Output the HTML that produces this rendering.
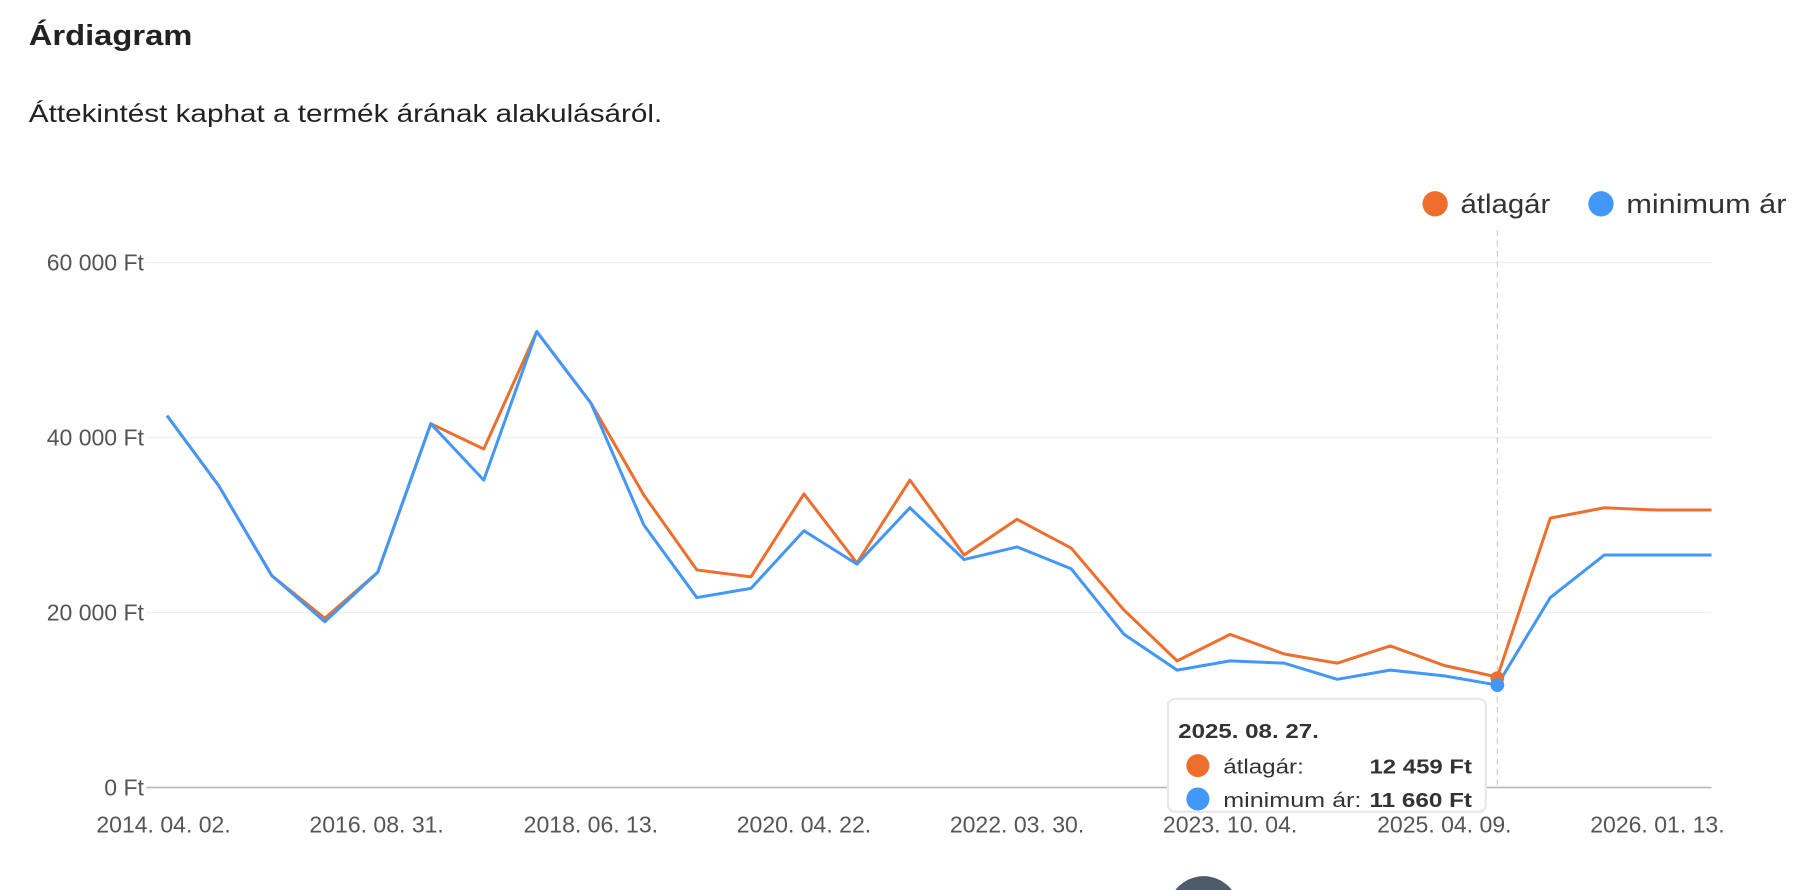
<!DOCTYPE html>
<html><head><meta charset="utf-8"><style>html,body{margin:0;padding:0;background:#fff;overflow:hidden;width:1806px;height:890px}svg{display:block}</style></head>
<body>
<svg width="1806" height="890" viewBox="0 0 1568 773" preserveAspectRatio="none" xmlns="http://www.w3.org/2000/svg" font-family="Liberation Sans, Arial, sans-serif">
<text x="25" y="39" font-size="25" font-weight="bold" fill="#222" textLength="142" lengthAdjust="spacingAndGlyphs">Árdiagram</text>
<text x="25" y="106" font-size="22" fill="#222" textLength="550" lengthAdjust="spacingAndGlyphs">Áttekintést kaphat a termék árának alakulásáról.</text>
<circle cx="1246" cy="177" r="11" fill="#ee6f2d"/><text x="1268" y="185" font-size="23" fill="#333" textLength="78" lengthAdjust="spacingAndGlyphs">átlagár</text>
<circle cx="1390" cy="177" r="11" fill="#4297f7"/><text x="1412" y="185" font-size="23" fill="#333" textLength="139" lengthAdjust="spacingAndGlyphs">minimum ár</text>
<g stroke="#eee" stroke-width="1"><line x1="127" y1="228" x2="1486" y2="228"/><line x1="127" y1="380" x2="1486" y2="380"/><line x1="127" y1="532" x2="1486" y2="532"/></g>
<line x1="127" y1="684" x2="1486" y2="684" stroke="#bbb" stroke-width="1.5"/>
<g font-size="20" fill="#555" text-anchor="end"><text x="125" y="235">60 000 Ft</text><text x="125" y="387">40 000 Ft</text><text x="125" y="539">20 000 Ft</text><text x="125" y="691">0 Ft</text></g>
<g font-size="20" fill="#555" text-anchor="middle"><text x="142" y="723">2014. 04. 02.</text><text x="327" y="723">2016. 08. 31.</text><text x="513" y="723">2018. 06. 13.</text><text x="698" y="723">2020. 04. 22.</text><text x="883" y="723">2022. 03. 30.</text><text x="1068" y="723">2023. 10. 04.</text><text x="1254" y="723">2025. 04. 09.</text><text x="1439" y="723">2026. 01. 13.</text></g>
<line x1="1300" y1="200" x2="1300" y2="684" stroke="#ccc" stroke-dasharray="5,4"/>
<polyline fill="none" stroke="#ee6f2d" stroke-width="2.6" stroke-linejoin="round" points="145,361 190,422 236,500 282,537 328,497 374,368 420,390 466,288 513,350 559,430 605,495 652,501 698,429 744,489 790,417 837,482 883,451 930,476 976,530 1022,574 1068,551 1115,568 1161,576 1207,561 1254,578 1300,588 1346,450 1393,441 1439,443 1486,443"/>
<polyline fill="none" stroke="#4297f7" stroke-width="2.6" stroke-linejoin="round" points="145,361 190,422 236,500 282,540 328,497 374,368 420,417 466,288 513,350 559,456 605,519 652,511 698,461 744,490 790,441 837,486 883,475 930,494 976,551 1022,582 1068,574 1115,576 1161,590 1207,582 1254,587 1300,595 1346,519 1393,482 1439,482 1486,482"/>
<circle cx="1300" cy="589" r="6" fill="#ee6f2d"/><circle cx="1300" cy="595" r="6" fill="#4297f7"/>
<rect x="1014" y="607" width="276" height="98" rx="6" fill="#fff" stroke="#e8e8e8" stroke-width="2"/>
<text x="1023" y="641" font-size="18" font-weight="bold" fill="#333" textLength="122" lengthAdjust="spacingAndGlyphs">2025. 08. 27.</text>
<circle cx="1040" cy="665" r="10" fill="#ee6f2d"/><text x="1062" y="672" font-size="18" fill="#333" textLength="70" lengthAdjust="spacingAndGlyphs">átlagár:</text><text x="1189" y="672" font-size="18" font-weight="bold" fill="#333" textLength="89" lengthAdjust="spacingAndGlyphs">12 459 Ft</text>
<circle cx="1040" cy="694" r="10" fill="#4297f7"/><text x="1062" y="701" font-size="18" fill="#333" textLength="120" lengthAdjust="spacingAndGlyphs">minimum ár:</text><text x="1189" y="701" font-size="18" font-weight="bold" fill="#333" textLength="89" lengthAdjust="spacingAndGlyphs">11 660 Ft</text>
<circle cx="1045" cy="792" r="31" fill="#4f5b6b"/>
</svg>
</body></html>
